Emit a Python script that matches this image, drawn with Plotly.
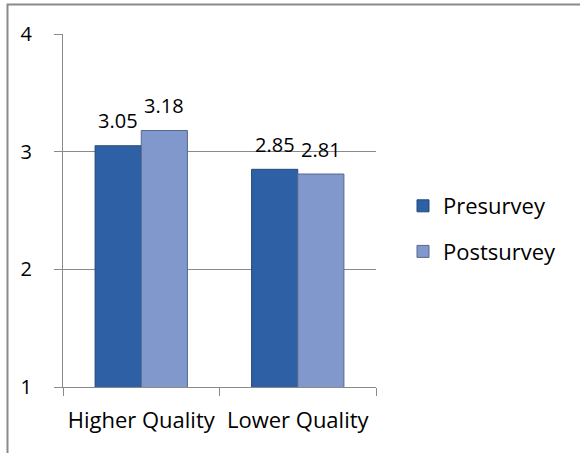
import plotly.graph_objects as go

categories = ["Higher Quality", "Lower Quality"]
presurvey = [3.05, 2.85]
postsurvey = [3.18, 2.81]
series_names = ["Presurvey", "Postsurvey"]
y_ticks = [1, 2, 3, 4]

W, H = 580, 453
ml, mr, mt, mb = 63, 204, 34, 66
pw, ph = W - ml - mr, H - mt - mb

FONT = "Open Sans"
FS = 20
FS_TXT = 22
colors = ["#2d60a4", "#8098cb"]
lines = ["#24497a", "#56688f"]

fig = go.Figure()
for name, vals, c, lc in zip(series_names, [presurvey, postsurvey], colors, lines):
    fig.add_trace(go.Bar(
        x=categories, y=vals, name=name, legendgroup=name,
        marker=dict(color=c, line=dict(color=lc, width=1)),
    ))

# data labels
bar_px = pw / len(categories) * (1 - 0.41) / 2
for i, vals in enumerate([presurvey, postsurvey]):
    off = (i - 0.5) * bar_px
    for cat, v in zip(categories, vals):
        fig.add_annotation(x=cat, y=v, text=f"{v:.2f}", showarrow=False,
                           xshift=off, yshift=25, yanchor="middle",
                           font=dict(family=FONT, size=FS, color="#000"))

# outer border (top and left)
x0 = (7.5 - ml) / pw
x1 = (W + 5 - ml) / pw
y1 = (H - mb - 4.5) / ph
y0 = (H - mb - (H + 5)) / ph
fig.add_shape(type="rect", xref="paper", yref="paper", x0=x0, x1=x1, y0=y0, y1=y1,
              line=dict(color="#8a8a8a", width=2), layer="below")

fig.update_layout(
    width=W, height=H,
    margin=dict(l=ml, r=mr, t=mt, b=mb, autoexpand=False),
    paper_bgcolor="white", plot_bgcolor="white",
    barmode="group", bargap=0.41, bargroupgap=0,
    font=dict(family=FONT, size=FS, color="#000"),
    showlegend=True,
    legend=dict(x=(403 - ml) / pw, y=(H - mb - 229) / ph, xanchor="left", yanchor="middle",
                traceorder="grouped", tracegroupgap=14,
                font=dict(family=FONT, size=FS_TXT, color="#000"),
                itemwidth=30, bgcolor="rgba(0,0,0,0)"),
    xaxis=dict(showline=True, linecolor="#8a8a8a", linewidth=1,
               ticks="outside", tickson="boundaries", ticklen=8, tickcolor="#8a8a8a",
               ticklabelstandoff=14, showgrid=False, tickangle=0,
               tickfont=dict(family=FONT, size=FS_TXT, color="#000")),
    yaxis=dict(range=[1, 4], tickvals=y_ticks, showline=True, linecolor="#8a8a8a", linewidth=1,
               ticks="outside", ticklen=8, tickcolor="#8a8a8a",
               showgrid=True, gridcolor="#8a8a8a", gridwidth=1,
               ticklabelstandoff=18, zeroline=False),
)

fig.write_html("out.html")
